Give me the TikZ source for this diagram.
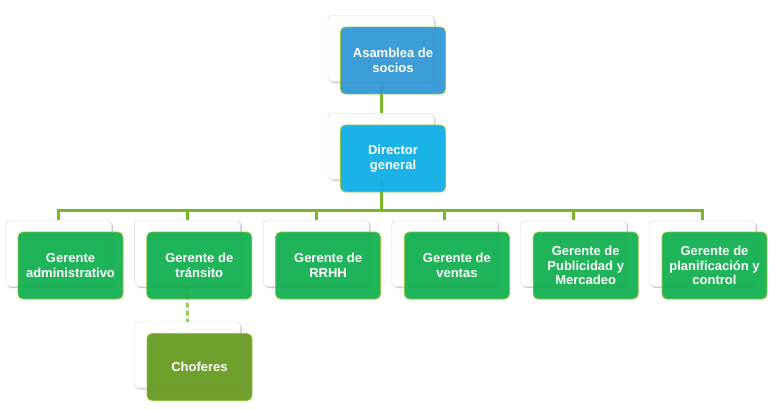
\documentclass[tikz,border=0pt]{standalone}
\usepackage{fontspec}
\setmainfont{Liberation Sans}
\usepackage{tikz}
\usetikzlibrary{calc,positioning,shadows}
\definecolor{asambleaBlue}{HTML}{3398D6}
\definecolor{directorBlue}{HTML}{0FAFE6}
\definecolor{gerenteGreen}{HTML}{14B052}
\definecolor{choferGreen}{HTML}{689A22}
\definecolor{borderGreen}{HTML}{8DC63F}
\definecolor{lineGreen}{HTML}{77B82A}
\definecolor{dashGreen}{HTML}{92D050}

\begin{document}
\begin{tikzpicture}[x=1pt,y=-1pt,
  backbox/.style={draw=gray!30, fill=white, rounded corners=4pt, minimum width=106pt, minimum height=66pt,
    drop shadow={shadow xshift=1.5pt, shadow yshift=-1.5pt, opacity=0.4}},
  frontbox/.style={draw=borderGreen, line width=0.8pt, fill=#1, fill opacity=0.95, text opacity=1, text=white,
    rounded corners=5pt, minimum width=105pt, minimum height=67pt, inner sep=2pt, align=center,
    font=\fontsize{13}{14.5}\selectfont\bfseries, xshift=12pt, yshift=-12pt},
  link/.style={lineGreen, line width=3pt},
  sublink/.style={dashGreen, line width=3pt, dash pattern=on 5pt off 3pt}]
\useasboundingbox (0,0) rectangle (776,408);

% back cards
\node[backbox] (asamblea-b) at (381,48.5) {};
\node[backbox] (director-b) at (381,146.5) {};
\foreach \name [count=\i from 0] in {gadmin,gtransito,grrhh,gventas,gpublicidad,gplanificacion}
  \node[backbox] (\name-b) at (58.5+128.8*\i,253.5) {};
\node[backbox] (choferes-b) at (187.5,355) {};

% connectors
\coordinate (bus) at (381,210);
\draw[link] (asamblea-b.south) -- (director-b.north);
\draw[link] (director-b.south) -- (bus);
\foreach \name in {gadmin,gtransito,grrhh,gventas,gpublicidad,gplanificacion}
  \draw[link] (bus) -| (\name-b.north);
\draw[sublink] (gtransito-b.south) -- (choferes-b.north);

% front cards
\node[frontbox=asambleaBlue] (asamblea) at (asamblea-b) {Asamblea de\\socios};
\node[frontbox=directorBlue] (director) at (director-b) {Director\\general};
\foreach \name/\txt in {gadmin/{Gerente\\administrativo},gtransito/{Gerente de\\tránsito},grrhh/{Gerente de\\RRHH},
    gventas/{Gerente de\\ventas},gpublicidad/{Gerente de\\Publicidad y\\Mercadeo},gplanificacion/{Gerente de\\planificación y\\control}}
  \node[frontbox=gerenteGreen] (\name) at (\name-b) {\txt};
\node[frontbox=choferGreen] (choferes) at (choferes-b) {Choferes};
\end{tikzpicture}
\end{document}
